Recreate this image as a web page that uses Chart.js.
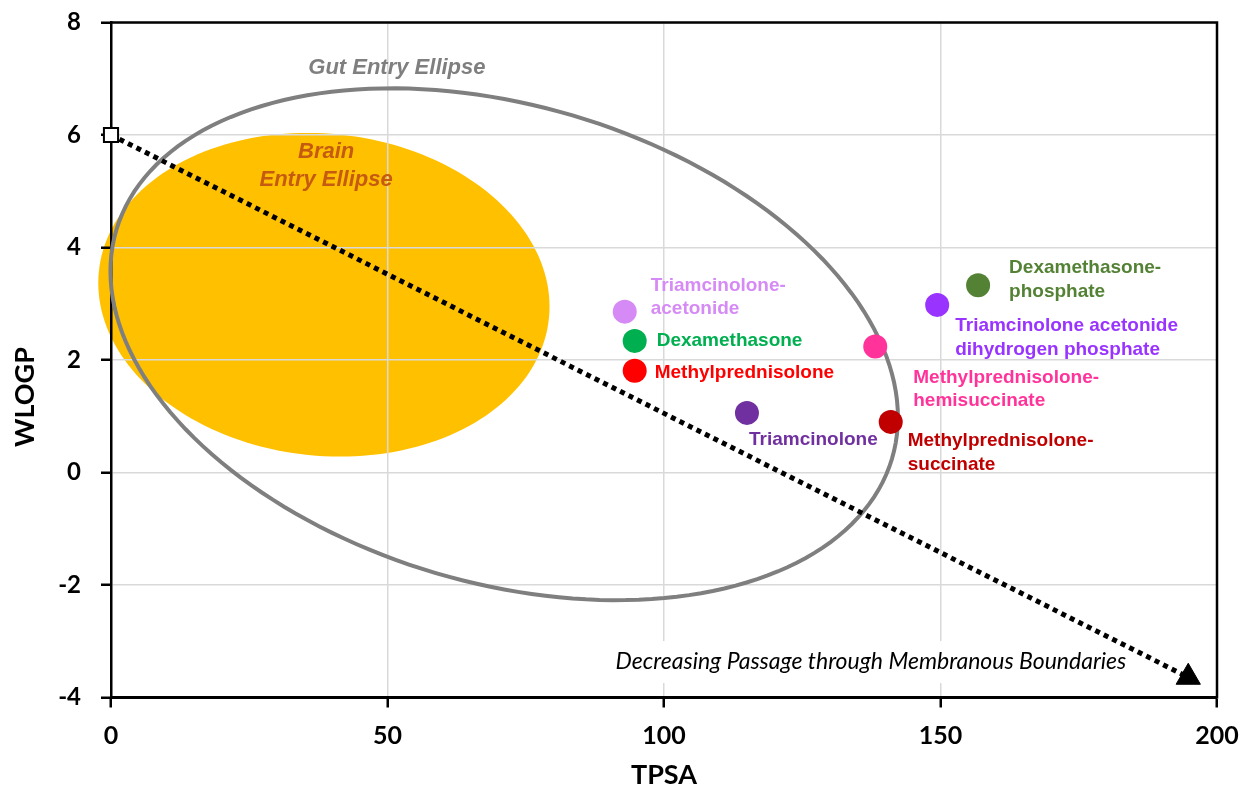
<!DOCTYPE html>
<html>
<head>
    <script src="https://cdn.jsdelivr.net/npm/chart.js"></script>
    <style>
        body { margin: 0; background: #fff; }
        #wrap { width: 1245px; height: 789px; }
    </style>
</head>
<body>
    <div id="wrap"><canvas id="eggChart"></canvas></div>

    <script>
        // compounds, TPSA and WLOGP
        const compounds = [
            'Triamcinolone-acetonide',
            'Dexamethasone',
            'Methylprednisolone',
            'Triamcinolone',
            'Methylprednisolone-hemisuccinate',
            'Methylprednisolone-succinate',
            'Triamcinolone acetonide dihydrogen phosphate',
            'Dexamethasone-phosphate',
        ];
        const tpsa = [92.9, 94.7, 94.7, 115.0, 138.2, 141.0, 149.4, 156.8];
        const wlogp = [2.86, 2.34, 1.81, 1.06, 2.24, 0.90, 2.98, 3.33];
        const dotColors = ['#D68AF5', '#00B050', '#FF0000', '#7030A0', '#FF3399', '#C00000', '#9933FF', '#548235'];
        const labelLines = [
            ['Triamcinolone-', 'acetonide'],
            ['Dexamethasone'],
            ['Methylprednisolone'],
            ['Triamcinolone'],
            ['Methylprednisolone-', 'hemisuccinate'],
            ['Methylprednisolone-', 'succinate'],
            ['Triamcinolone acetonide', 'dihydrogen phosphate'],
            ['Dexamethasone-', 'phosphate'],
        ];

        // trend arrow: start and end (TPSA, WLOGP)
        const trendX = [0, 194.8];
        const trendY = [6, -3.64];

        // ellipses: centre x, centre y, x half-width, tilt, y half-height
        const gutEllipse = [71.1, 2.28, 71.2, -1.3, 4.36];
        const brainEllipse = [38.5, 3.16, 40.8, -0.21, 2.87];

        const xTicks = [0, 50, 100, 150, 200];
        const yTicks = [-4, -2, 0, 2, 4, 6, 8];
    </script>
    <script>
        // label offsets from each dot, in pixels: [dx, dy of first line]
        const labelOffsets = [[26, -26], [22, 0], [20, 2], [2, 27], [38, 31], [17, 19], [18, 21], [31, -17]];
        const lineGap = 23.5;
        const labelFont = 'bold 19px "Liberation Sans", Arial, sans-serif';
        const axisFont = 'Lato, "Open Sans", sans-serif';

        const ellipsePath = (ctx, chart, e) => {
            const xs = chart.scales.x, ys = chart.scales.y;
            ctx.beginPath();
            for (let i = 0; i <= 180; i++) {
                const t = i / 180 * Math.PI * 2;
                const px = xs.getPixelForValue(e[0] + e[2] * Math.cos(t));
                const py = ys.getPixelForValue(e[1] + e[3] * Math.cos(t) + e[4] * Math.sin(t));
                if (i === 0) ctx.moveTo(px, py); else ctx.lineTo(px, py);
            }
            ctx.closePath();
        };

        const eggPlugin = {
            id: 'egg',
            beforeDraw(chart) {
                const ctx = chart.ctx;
                ctx.save();
                ellipsePath(ctx, chart, brainEllipse);
                ctx.fillStyle = '#FFC000';
                ctx.fill();
                ctx.restore();
            },
            beforeDatasetsDraw(chart) {
                const ctx = chart.ctx;
                const xs = chart.scales.x, ys = chart.scales.y;
                ctx.save();
                ellipsePath(ctx, chart, gutEllipse);
                ctx.strokeStyle = '#7F7F7F';
                ctx.lineWidth = 4;
                ctx.stroke();

                ctx.textAlign = 'center';
                ctx.textBaseline = 'middle';
                ctx.font = 'italic bold 22px "Liberation Sans", Arial, sans-serif';
                ctx.fillStyle = '#7F7F7F';
                ctx.fillText('Gut Entry Ellipse', xs.getPixelForValue(51.7), ys.getPixelForValue(7.19));
                ctx.fillStyle = '#C55A11';
                ctx.fillText('Brain', xs.getPixelForValue(38.9), ys.getPixelForValue(5.70));
                ctx.fillText('Entry Ellipse', xs.getPixelForValue(38.9), ys.getPixelForValue(5.20));

                // annotation with white box behind it
                const note = 'Decreasing Passage through Membranous Boundaries';
                ctx.font = 'italic 23px ' + axisFont;
                const w = ctx.measureText(note).width;
                const rx = xs.getPixelForValue(183.6);
                const cy = ys.getPixelForValue(-3.37);
                ctx.fillStyle = '#fff';
                ctx.fillRect(rx - w - 6, cy - 21, w + 8, 42);
                ctx.fillStyle = '#000';
                ctx.textAlign = 'right';
                ctx.fillText(note, rx, cy);
                ctx.restore();
            },
            afterDatasetsDraw(chart) {
                const ctx = chart.ctx;
                const xs = chart.scales.x, ys = chart.scales.y;
                const a = chart.chartArea;
                ctx.save();
                ctx.font = labelFont;
                ctx.textAlign = 'left';
                ctx.textBaseline = 'middle';
                labelLines.forEach((lines, i) => {
                    const px = xs.getPixelForValue(tpsa[i]) + labelOffsets[i][0];
                    const py = ys.getPixelForValue(wlogp[i]) + labelOffsets[i][1];
                    ctx.fillStyle = dotColors[i];
                    lines.forEach((line, j) => ctx.fillText(line, px, py + j * lineGap));
                });

                // top and right frame
                ctx.strokeStyle = '#000';
                ctx.lineWidth = 2.5;
                ctx.beginPath();
                ctx.moveTo(a.left - 1, a.top);
                ctx.lineTo(a.right, a.top);
                ctx.lineTo(a.right, a.bottom + 1);
                ctx.stroke();

                // axis titles
                ctx.fillStyle = '#000';
                ctx.font = 'bold 27px ' + axisFont;
                ctx.textAlign = 'center';
                ctx.fillText('TPSA', (a.left + a.right) / 2, 775);
                ctx.translate(25, 397);
                ctx.rotate(-Math.PI / 2);
                ctx.fillText('WLOGP', 0, 0);
                ctx.restore();
            },
        };

        const eggChart = new Chart('eggChart', {
            type: 'scatter',
            data: {
                datasets: [
                    {
                        label: 'Compounds',
                        data: tpsa.map((x, i) => ({ x: x, y: wlogp[i] })),
                        backgroundColor: dotColors,
                        borderWidth: 0,
                        pointRadius: 12,
                        pointHoverRadius: 12,
                    },
                    {
                        type: 'line',
                        label: 'Trend',
                        data: trendX.map((x, i) => ({ x: x, y: trendY[i] })),
                        borderColor: '#000',
                        borderWidth: 5,
                        borderDash: [5, 4.5],
                        borderCapStyle: 'butt',
                        pointStyle: ['rect', 'triangle'],
                        pointRadius: [10, 14],
                        pointBackgroundColor: ['#fff', '#000'],
                        pointBorderColor: '#000',
                        pointBorderWidth: [2, 1],
                        fill: false,
                        clip: false,
                    },
                ],
            },
            options: {
                responsive: true,
                maintainAspectRatio: false,
                animation: false,
                layout: { padding: { top: 22.5, right: 28, left: 0, bottom: 0 } },
                plugins: {
                    legend: { display: false },
                    tooltip: { enabled: false },
                },
                scales: {
                    x: {
                        type: 'linear',
                        min: xTicks[0],
                        max: xTicks[xTicks.length - 1],
                        afterBuildTicks: (s) => { s.ticks = xTicks.map(v => ({ value: v })); },
                        afterFit: (s) => { s.height = 91.5; s.paddingLeft = 0; s.paddingRight = 0; },
                        grid: { color: '#D9D9D9', lineWidth: 1.5, tickColor: '#000', tickWidth: 2.5, tickLength: 10 },
                        border: { color: '#000', width: 3 },
                        ticks: { color: '#000', padding: 13, font: { family: axisFont, size: 25, weight: 'bold' } },
                    },
                    y: {
                        type: 'linear',
                        min: yTicks[0],
                        max: yTicks[yTicks.length - 1],
                        afterBuildTicks: (s) => { s.ticks = yTicks.map(v => ({ value: v })); },
                        afterFit: (s) => { s.width = 111; s.paddingTop = 0; s.paddingBottom = 0; },
                        grid: { color: '#D9D9D9', lineWidth: 1.5, tickColor: '#000', tickWidth: 2.5, tickLength: 10 },
                        border: { color: '#000', width: 2.5 },
                        ticks: { color: '#000', padding: 20, font: { family: axisFont, size: 24, weight: 'bold' } },
                    },
                },
            },
            plugins: [eggPlugin],
        });
    </script>
</body>
</html>
